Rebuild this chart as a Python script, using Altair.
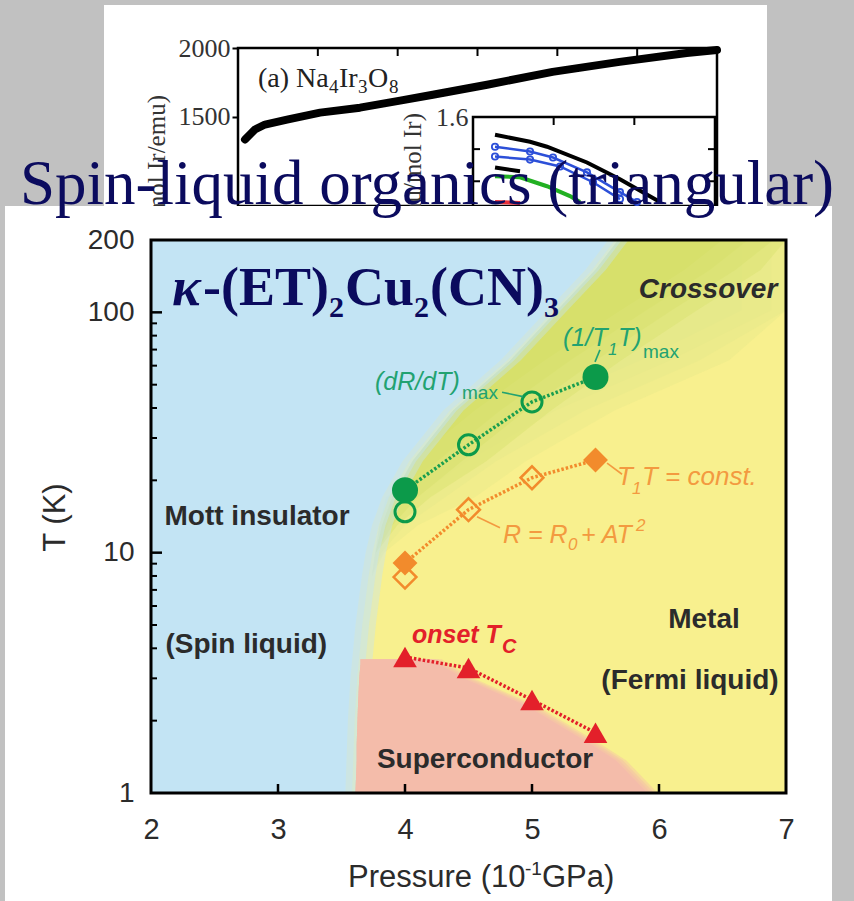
import altair as alt
import pandas as pd

# ---------------- kappa-(ET)2Cu2(CN)3 phase diagram ----------------
# (dR/dT)max : open circles
drdt_p = [4.0, 4.5, 5.0]
drdt_t = [14.8, 28.1, 42.4]
# (1/T1T)max : filled circles
nmr_peak_p = [4.0, 5.5]
nmr_peak_t = [18.2, 53.8]
# dotted guide through the crossover points
crossover_p = [4.0, 4.5, 5.0, 5.5]
crossover_t = [18.2, 28.1, 42.4, 53.8]

# T1T = const. : filled diamonds
korringa_p = [4.0, 5.5]
korringa_t = [9.06, 24.3]
# R = R0 + AT^2 : open diamonds
fermi_p = [4.0, 4.5, 5.0]
fermi_t = [7.92, 15.1, 20.5]
fermi_line_p = [4.0, 4.5, 5.0, 5.5]
fermi_line_t = [9.06, 15.1, 20.5, 24.3]

# onset Tc : triangles
tc_p = [4.0, 4.5, 5.0, 5.5]
tc_t = [3.68, 3.31, 2.44, 1.78]

# region boundaries sampled along T
band_t = [1, 2, 3, 5, 8, 10, 13, 17, 24, 39, 63, 102, 150, 200]
mott_edge_p = [3.61, 3.63, 3.65, 3.69, 3.74, 3.77, 3.82, 3.90, 4.06, 4.38, 4.83, 5.20, 5.50, 5.68]
green_inner_p = [3.61, 3.63, 3.65, 3.69, 3.74, 3.77, 3.88, 4.05, 4.35, 4.85, 5.40, 6.00, 6.50, 6.80]
green_outer_p = [3.61, 3.63, 3.65, 3.69, 3.74, 3.80, 3.95, 4.20, 4.60, 5.30, 6.20, 7.00, 7.00, 7.00]

sc_t = [1.0, 1.37, 1.6, 2.3, 3.0, 3.45, 3.6]
sc_right_p = [5.95, 5.70, 5.50, 5.00, 4.50, 4.30, 4.25]
sc_left_p = [3.61, 3.62, 3.62, 3.63, 3.64, 3.65, 3.65]

p_labels = [2, 3, 4, 5, 6, 7]
p_inner_ticks = [3, 4, 5, 6]
t_labels = [1, 10, 100, 200]
t_major = [10, 100]
t_minor = [2, 3, 4, 5, 6, 7, 8, 9, 20, 30, 40, 50, 60, 70, 80, 90]

# ---------------- Na4Ir3O8 inverse susceptibility ----------------
na_temp = [4.4, 10.6, 16.9, 30.7, 51.4, 76.4, 101.5, 122, 156, 197, 239, 281, 300]
na_inv_chi = [1333, 1406, 1442, 1478, 1529, 1565, 1616, 1659, 1732, 1826, 1899, 1964, 1986]
na_temp_ticks = [50, 100, 150, 200, 250]

# small panel: susceptibility curves
chi_black_t = [27.3, 70.7, 91.7, 141.3, 182.2, 231.8]
chi_black = [1.489, 1.446, 1.415, 1.317, 1.212, 1.071]
chi_blue1_t = [27.3, 70.7, 99.2, 141.3, 182.2, 203.3]
chi_blue1 = [1.415, 1.385, 1.348, 1.255, 1.132, 1.071]
chi_blue2_t = [27.3, 70.7, 107.9, 148.8, 182.2]
chi_blue2 = [1.354, 1.335, 1.292, 1.194, 1.089]
chi_black2_t = [27.3, 58.3]
chi_black2 = [1.286, 1.262]
chi_green_t = [27.3, 58.3, 91.7, 120.2, 132.6]
chi_green = [1.231, 1.225, 1.169, 1.108, 1.071]
chi_red_t = [27.3, 58.3]
chi_red = [1.071, 1.065]
chi_temp_ticks = [100, 200]
chi_side_ticks = [1.4, 1.2]

# ---------------- styling ----------------
SANS = "Liberation Sans"
SERIF = "Liberation Serif"
INK = "#2b2b2b"
NAVY = "#0b0b5e"
BLUE_BG = "#c4e4f5"
YELLOW_BG = "#f8f08e"
GREEN_FAINT = "#e6e98a"
GREEN_STRONG = "#d8e06c"
PINK = "#f5bcaa"
GREEN_M = "#0c9a4a"
GREEN_T = "#22a271"
ORANGE = "#f28b2c"
ORANGE_T = "#f39a40"
RED = "#e3202a"

W, H = 635, 553

SC_P = alt.Scale(domain=[2, 7], nice=False, zero=False)
SC_T = alt.Scale(type="log", domain=[1, 200], nice=False)
AX_P = alt.Axis(orient="bottom", values=p_labels, format="d", domain=False, ticks=False,
                grid=False, labelFont=SANS, labelFontSize=29, labelColor=INK,
                labelPadding=22, labelFlush=False, labelOverlap=False, title=None, zindex=1)
AX_T = alt.Axis(orient="left", values=t_labels, format="d", domain=False, ticks=False,
                grid=False, labelFont=SANS, labelFontSize=28, labelColor=INK,
                labelPadding=17, labelOverlap=False, title="T (K)", titleFont=SANS,
                titleFontSize=31, titleFontWeight="normal", titleColor=INK, titleAngle=270,
                titleX=-96, titleY=277, titleAlign="center", titleBaseline="middle", zindex=1)


def xp(f):
    return alt.X(f, type="quantitative", scale=SC_P, axis=AX_P)


def yt(f):
    return alt.Y(f, type="quantitative", scale=SC_T, axis=AX_T)


def one():
    return pd.DataFrame({"k": [0]})


def box(x, x2, y, y2, color):
    return alt.Chart(one()).mark_rect(color=color).encode(
        x=alt.value(x), x2=alt.value(x2), y=alt.value(y), y2=alt.value(y2))


def note(x, y, text, size, font=SANS, color=INK, style="normal", weight="normal",
         align="left", baseline="alphabetic", angle=0):
    return alt.Chart(one()).mark_text(
        text=text, font=font, fontSize=size, color=color, fontStyle=style,
        fontWeight=weight, align=align, baseline=baseline, angle=angle
    ).encode(x=alt.value(x), y=alt.value(y))


def label(p, t, text, size, color=INK, dx=0, dy=0, style="normal", weight="normal",
          align="left"):
    return alt.Chart(pd.DataFrame({"P": [p], "T": [t]})).mark_text(
        text=text, font=SANS, fontSize=size, color=color, fontStyle=style,
        fontWeight=weight, align=align, baseline="middle", dx=dx, dy=dy
    ).encode(x=xp("P"), y=yt("T"))


def hband(t, hi, lo, color, opacity=1.0, shift=0.0):
    """Horizontal band between two pressure edges.  `shift` nudges the right edge
    (scaled down where the band is narrow) so stacked translucent copies feather it."""
    edge = [min(7.0, v + shift * min(1.0, (v - l) / 0.3)) for v, l in zip(hi, lo)]
    df = pd.DataFrame({"T": t, "hi": edge, "lo": lo})
    return alt.Chart(df).mark_area(orient="horizontal", color=color, opacity=opacity).encode(
        y=yt("T"), x=xp("hi"), x2=alt.X2("lo"))


def feathered(t, hi, lo, color, width):
    """Solid core plus translucent fringes along the right edge."""
    return [
        hband(t, hi, lo, color, 1.0, -width),
        hband(t, hi, lo, color, 0.5, -width / 3),
        hband(t, hi, lo, color, 0.45, width / 3),
        hband(t, hi, lo, color, 0.4, width),
    ]


def leader(p1, t1, p2, t2, color):
    df = pd.DataFrame({"P": [p1], "T": [t1], "P2": [p2], "T2": [t2]})
    return alt.Chart(df).mark_rule(color=color, strokeWidth=1.6).encode(
        x=xp("P"), x2=alt.X2("P2"), y=yt("T"), y2=alt.Y2("T2"))


def pts(p, t, shape, size, color, filled, sw=3):
    df = pd.DataFrame({"P": p, "T": t})
    return alt.Chart(df).mark_point(shape=shape, size=size, color=color, filled=filled,
                                    strokeWidth=sw, opacity=1).encode(x=xp("P"), y=yt("T"))


def dotted(p, t, color):
    df = pd.DataFrame({"P": p, "T": t})
    return alt.Chart(df).mark_line(color=color, strokeWidth=3.5, strokeDash=[2.5, 2]).encode(
        x=xp("P"), y=yt("T"))


# ---------------- main panel ----------------
white_panel = box(-146, 681, -34, 661, "white")
full = pd.DataFrame({"P": [2], "P2": [7], "T": [1], "T2": [200]})
yellow = alt.Chart(full).mark_rect(color=YELLOW_BG).encode(
    x=xp("P"), x2=alt.X2("P2"), y=yt("T"), y2=alt.Y2("T2"))
frame = alt.Chart(full).mark_rect(fillOpacity=0, stroke="black", strokeWidth=3).encode(
    x=xp("P"), x2=alt.X2("P2"), y=yt("T"), y2=alt.Y2("T2"))

left_edge = [2] * len(band_t)
regions = (
    feathered(band_t, green_outer_p, mott_edge_p, GREEN_FAINT, 0.35)
    + feathered(band_t, green_inner_p, mott_edge_p, GREEN_STRONG, 0.3)
    + feathered(band_t, mott_edge_p, left_edge, BLUE_BG, 0.08)
    + feathered(sc_t, sc_right_p, sc_left_p, PINK, 0.04)
)

t_major_ticks = alt.Chart(pd.DataFrame({"T": t_major})).mark_rule(
    color="black", strokeWidth=2.5).encode(y=yt("T"), x=alt.value(0), x2=alt.value(11))
t_minor_ticks = alt.Chart(pd.DataFrame({"T": t_minor})).mark_rule(
    color="black", strokeWidth=2).encode(y=yt("T"), x=alt.value(0), x2=alt.value(6))
p_ticks = alt.Chart(pd.DataFrame({"P": p_inner_ticks})).mark_rule(
    color="black", strokeWidth=2.5).encode(x=xp("P"), y=alt.value(H), y2=alt.value(H - 9))

main_layers = [white_panel, yellow] + regions + [
    t_major_ticks, t_minor_ticks, p_ticks, frame,
    dotted(crossover_p, crossover_t, "#1a9e4e"),
    dotted(fermi_line_p, fermi_line_t, ORANGE),
    dotted(tc_p, tc_t, RED),
    pts(drdt_p, drdt_t, "circle", 400, GREEN_M, False),
    pts(nmr_peak_p, nmr_peak_t, "circle", 676, GREEN_M, True),
    pts(fermi_p, fermi_t, "diamond", 520, ORANGE, False, 2.5),
    pts(korringa_p, korringa_t, "diamond", 620, ORANGE, True),
    pts(tc_p, tc_t, "triangle-up", 560, RED, True),
    leader(4.764, 46.5, 4.929, 44.6, GREEN_T),
    leader(5.535, 69.8, 5.496, 62.2, GREEN_T),
    leader(5.591, 23.6, 5.709, 21.2, ORANGE_T),
    leader(4.567, 14.1, 4.748, 12.7, ORANGE_T),
    # curve labels
    label(3.764, 51.3, "(dR/dT)", 25, GREEN_T, style="italic"),
    label(3.764, 51.3, "max", 19, GREEN_T, dx=87, dy=11),
    label(5.244, 78.3, "(1/T", 25, GREEN_T, style="italic"),
    label(5.244, 78.3, "1", 17, GREEN_T, dx=45, dy=12, style="italic"),
    label(5.244, 78.3, "T)", 25, GREEN_T, dx=55, style="italic"),
    label(5.244, 78.3, "max", 19, GREEN_T, dx=80, dy=14),
    label(5.669, 20.65, "T", 26, ORANGE_T, style="italic"),
    label(5.669, 20.65, "1", 17, ORANGE_T, dx=15, dy=12, style="italic"),
    label(5.669, 20.65, "T = const.", 26, ORANGE_T, dx=25, style="italic"),
    label(4.772, 11.85, "R = R", 25, ORANGE_T, style="italic"),
    label(4.772, 11.85, "0", 17, ORANGE_T, dx=65, dy=10, style="italic"),
    label(4.772, 11.85, "+ AT", 25, ORANGE_T, dx=78, style="italic"),
    label(4.772, 11.85, "2", 17, ORANGE_T, dx=133, dy=-9, style="italic"),
    label(4.055, 4.545, "onset T", 25, RED, style="italic", weight="bold"),
    label(4.055, 4.545, "C", 20, RED, dx=90, dy=12, style="italic", weight="bold"),
    # phase labels
    label(2.835, 14.1, "Mott insulator", 28, weight="bold", align="center"),
    label(2.75, 4.13, "(Spin liquid)", 28, weight="bold", align="center"),
    label(6.354, 5.25, "Metal", 28, weight="bold", align="center"),
    label(6.244, 2.93, "(Fermi liquid)", 28, weight="bold", align="center"),
    label(4.63, 1.37, "Superconductor", 28, weight="bold", align="center"),
    label(6.386, 124, "Crossover", 28, style="italic", weight="bold", align="center"),
    # compound name
    note(21, 65, "\u03ba", 54, SERIF, NAVY, style="italic", weight="bold"),
    note(52, 65, "-(ET)", 54, SERIF, NAVY, weight="bold"),
    note(178, 77, "2", 30, SERIF, NAVY, weight="bold"),
    note(194, 65, "Cu", 54, SERIF, NAVY, weight="bold"),
    note(263, 77, "2", 30, SERIF, NAVY, weight="bold"),
    note(279, 65, "(CN)", 54, SERIF, NAVY, weight="bold"),
    note(393, 77, "3", 30, SERIF, NAVY, weight="bold"),
    # pressure axis title
    note(197, 638, "Pressure (10", 31, baseline="middle"),
    note(374, 629, "-1", 19, baseline="middle"),
    note(391, 638, "GPa)", 31, baseline="middle"),
    # slide heading
    note(276, -36, "Spin-liquid organics (triangular)", 63, SERIF, NAVY, align="center"),
]
main = alt.layer(*main_layers)

# ---------------- Na4Ir3O8 panel ----------------
SC_NT = alt.Scale(domain=[0, 300], range=[87, 566], nice=False, zero=False)
SC_NY = alt.Scale(domain=[848, 2000], range=[-34, -192], nice=False, zero=False)
AX_NY = alt.Axis(orient="left", offset=-87, values=[1500, 2000], format="d", domain=False,
                 ticks=True, tickSize=6, tickWidth=2, tickColor="black", grid=False,
                 labelFont=SERIF, labelFontSize=26, labelColor="#333333", labelPadding=2,
                 labelOverlap=False, title=None, zindex=1)


def xn(f):
    return alt.X(f, type="quantitative", scale=SC_NT, axis=None)


def yn(f):
    return alt.Y(f, type="quantitative", scale=SC_NY, axis=AX_NY)


na_frame = alt.Chart(pd.DataFrame({"a": [0], "b": [300], "c": [848], "d": [2000]})).mark_rect(
    fillOpacity=0, stroke="black", strokeWidth=2.5).encode(
    x=xn("a"), x2=alt.X2("b"), y=yn("c"), y2=alt.Y2("d"))
na_ticks = alt.Chart(pd.DataFrame({"a": na_temp_ticks})).mark_rule(
    color="black", strokeWidth=2).encode(x=xn("a"), y=alt.value(-192), y2=alt.value(-184))
na_curve = alt.Chart(pd.DataFrame({"a": na_temp, "c": na_inv_chi})).mark_line(
    color="black", strokeWidth=8, strokeCap="round", strokeJoin="round").encode(
    x=xn("a"), y=yn("c"))

outer = alt.layer(
    box(-47, 616, -235, -34, "white"),
    na_frame, na_ticks, na_curve,
    note(107, -153, "(a) Na", 28, SERIF, "#222222"),
    note(178, -147, "4", 19, SERIF, "#222222"),
    note(188, -153, "Ir", 28, SERIF, "#222222"),
    note(207, -147, "3", 19, SERIF, "#222222"),
    note(217, -153, "O", 28, SERIF, "#222222"),
    note(238, -147, "8", 19, SERIF, "#222222"),
    note(6, -145, "1/\u03c7 (mol Ir/emu)", 25, SERIF, "#333333", align="right",
         baseline="middle", angle=270),
)

# ---------------- susceptibility sub-panel ----------------
SC_CT = alt.Scale(domain=[0, 300], range=[322, 564], nice=False, zero=False)
SC_CY = alt.Scale(domain=[1.046, 1.6], range=[-34, -123], nice=False, zero=False)
AX_CY = alt.Axis(orient="left", offset=-322, values=[1.6], format=".1f", domain=False,
                 ticks=False, grid=False, labelFont=SERIF, labelFontSize=26,
                 labelColor="#333333", labelPadding=5, title=None, zindex=1)


def xc(f):
    return alt.X(f, type="quantitative", scale=SC_CT, axis=None)


def yc(f):
    return alt.Y(f, type="quantitative", scale=SC_CY, axis=AX_CY)


def chi_line(t, c, color, open_points=False):
    df = pd.DataFrame({"a": t, "c": c})
    if open_points:
        mark = alt.Chart(df).mark_line(color=color, strokeWidth=2.5, point=alt.OverlayMarkDef(
            filled=False, size=40, strokeWidth=1.8, color=color))
    else:
        mark = alt.Chart(df).mark_line(color=color, strokeWidth=4)
    return mark.encode(x=xc("a"), y=yc("c"))


chi_frame = alt.Chart(pd.DataFrame({"a": [0], "b": [300], "c": [1.046], "d": [1.6]})).mark_rect(
    fill="white", stroke="black", strokeWidth=2.5).encode(
    x=xc("a"), x2=alt.X2("b"), y=yc("c"), y2=alt.Y2("d"))
chi_top_ticks = alt.Chart(pd.DataFrame({"a": chi_temp_ticks})).mark_rule(
    color="black", strokeWidth=2).encode(x=xc("a"), y=alt.value(-123), y2=alt.value(-115))
chi_left_ticks = alt.Chart(pd.DataFrame({"c": chi_side_ticks})).mark_rule(
    color="black", strokeWidth=2).encode(y=yc("c"), x=alt.value(322), x2=alt.value(329))
chi_right_ticks = alt.Chart(pd.DataFrame({"c": chi_side_ticks})).mark_rule(
    color="black", strokeWidth=2).encode(y=yc("c"), x=alt.value(557), x2=alt.value(564))

inner = alt.layer(
    chi_frame, chi_top_ticks, chi_left_ticks, chi_right_ticks,
    chi_line(chi_red_t, chi_red, "#e8303a"),
    chi_line(chi_green_t, chi_green, "#22b022"),
    chi_line(chi_black2_t, chi_black2, "black"),
    chi_line(chi_blue2_t, chi_blue2, "#2c4fd8", True),
    chi_line(chi_blue1_t, chi_blue1, "#2c4fd8", True),
    chi_line(chi_black_t, chi_black, "black"),
    note(262, -127, "\u03c7 (emu/mol Ir)", 25, SERIF, "#333333", align="right",
         baseline="middle", angle=270),
)

chart = alt.layer(outer, inner, main).resolve_scale(
    x="independent", y="independent"
).properties(
    width=W, height=H,
    padding={"left": 151, "top": 240, "right": 68, "bottom": 108},
    autosize=alt.AutoSizeParams(type="none"),
    background="#c1c1c1",
).configure_view(strokeWidth=0)

chart.save("out.html", embed_options={"renderer": "svg", "actions": False})
